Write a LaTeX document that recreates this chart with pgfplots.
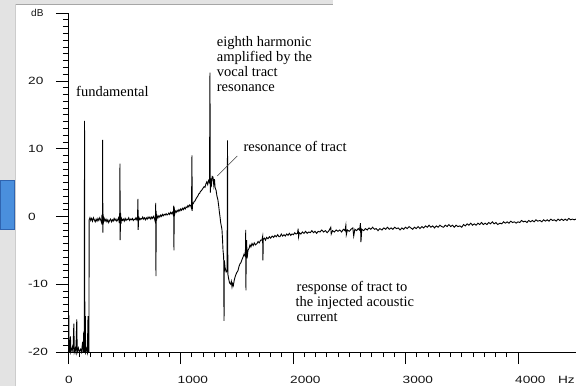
\documentclass[border=0pt]{standalone}
\usepackage{fontspec}
\setmainfont{Liberation Serif}
\newfontfamily\tickfont[FakeStretch=1.3]{Liberation Sans}
\newfontfamily\plainsans{Liberation Sans}
\usepackage{pgfplots}
\pgfplotsset{compat=1.18}
\definecolor{bgray}{HTML}{E3E3E3}
\definecolor{tabblue}{HTML}{4A8FDD}
\definecolor{tabedge}{HTML}{2F64B0}
\newcommand\annfont{\fontsize{14.5}{15}\selectfont}
\pgfplotstableread{
f db
0 -20
4 -20
6 -17.6
8 -14.6
10 -20
16 -18.2
18 -20
22 -17.7
25 -20
38 -19.3
44 -20
52 -15.8
56 -20
64 -19.5
70 -20
78 -15.2
82 -20
92 -19.4
100 -20
112 -19.6
120 -20
130 -18.5
134 -20
140 -17
144 -20
147 14.1
150 -20
154 -14.7
157 -20
166 -19.5
172 -20
178 -14.7
181 -20
186 -20
188 -0.5
195 -0.2
202 -0.6
210 -0.3
218 -0.7
226 -0.2
234 -0.5
242 -0.8
250 -0.4
258 -0.7
266 -0.3
274 -0.6
282 -0.2
290 -0.5
298 -0.9
302 0.2
306 -1.2
308 11.3
310 -2.4
313 0.3
316 -0.8
322 -0.3
330 -0.7
338 -0.4
346 -0.8
354 -0.5
362 -0.9
370 -0.6
378 -0.4
386 -0.8
394 -0.5
402 -0.7
410 -0.3
418 -0.6
426 -0.4
434 -0.7
442 -0.5
450 -0.2
456 -1.0
460 0.6
462 7.8
464 -3.5
467 0.5
471 -1.1
476 -0.3
484 -0.6
492 -0.4
500 -0.7
508 -0.3
516 -0.6
524 -0.4
532 -0.5
540 -0.2
548 -0.6
556 -0.4
564 -0.5
572 -0.3
580 -0.6
588 -0.4
596 -0.5
604 -0.2
612 -0.5
618 -0.1
622 2.6
624 -2.0
627 -0.6
632 -0.2
640 -0.5
648 -0.3
656 -0.4
664 -0.1
672 -0.4
680 -0.2
688 -0.5
696 -0.2
704 -0.4
712 -0.1
720 -0.3
728 -0.1
736 -0.4
744 -0.1
752 -0.3
760 0.0
768 -0.3
776 -0.8
780 2.0
782 -8.8
784 0.8
787 -0.6
792 0.1
800 -0.2
808 0.1
816 -0.1
824 0.2
832 0.0
840 0.3
848 0.1
856 0.3
864 0.2
872 0.4
880 0.2
888 0.3
896 0.5
904 0.3
912 0.6
920 0.4
928 0.6
936 0.2
940 1.6
942 -5.0
944 1.4
948 0.3
954 0.8
962 0.6
970 0.9
978 0.7
986 1.0
994 0.8
1002 1.1
1010 0.9
1018 1.2
1026 1.0
1034 1.3
1042 1.1
1050 1.4
1058 1.3
1066 1.6
1074 1.4
1082 1.7
1090 1.6
1098 1.2
1102 9.0
1104 0.8
1108 2.0
1114 1.9
1122 2.2
1130 2.3
1138 2.6
1146 2.8
1154 3.0
1162 3.3
1170 3.4
1178 3.7
1186 3.8
1194 4.0
1202 4.2
1210 4.4
1218 4.3
1226 4.8
1234 5.1
1242 4.7
1250 5.3
1258 5.0
1262 21.2
1265 3.5
1270 5.6
1276 4.8
1282 5.9
1289 5.8
1296 4.6
1302 5.5
1308 4.2
1316 3.9
1324 3.0
1333 2.4
1340 1.5
1346 0.6
1351 0.0
1358 -1.0
1364 -1.5
1369 -2.0
1374 -3.5
1378 -5.0
1384 -6.0
1387 -15.4
1390 -6.5
1396 -7.5
1406 -8.2
1414 -8.0
1418 11.2
1421 -8.5
1428 -9.2
1436 -9.8
1446 -10.0
1452 -9.6
1458 -10.4
1464 -9.9
1470 -10.2
1478 -9.4
1484 -9.0
1492 -8.6
1500 -8.3
1511 -8.0
1520 -7.4
1529 -7.0
1538 -6.8
1546 -6.4
1556 -6.0
1564 -5.6
1572 -5.8
1578 -4.8
1580 -2.0
1582 -10.9
1584 -5.0
1588 -3.5
1592 -6.2
1600 -5.0
1610 -4.7
1618 -4.2
1626 -4.5
1636 -4.0
1646 -4.3
1656 -3.9
1666 -4.2
1680 -4.0
1690 -3.7
1700 -3.9
1712 -3.5
1724 -3.5
1730 -3.0
1733 -6.5
1736 -3.4
1746 -3.2
1756 -3.5
1766 -3.1
1778 -3.3
1790 -3.0
1802 -3.2
1815 -2.9
1828 -3.1
1840 -2.8
1852 -3.0
1864 -2.7
1876 -3.0
1884 -3.0
1896 -2.6
1908 -2.9
1920 -2.7
1932 -2.9
1944 -2.6
1956 -2.8
1968 -2.5
1980 -2.8
1992 -2.6
2004 -2.7
2016 -2.4
2028 -2.6
2040 -2.5
2046 -1.8
2050 -3.0
2056 -2.4
2070 -2.6
2084 -2.3
2098 -2.5
2112 -2.2
2126 -2.5
2140 -2.3
2154 -2.4
2168 -2.1
2182 -2.4
2196 -2.2
2210 -2.5
2224 -2.2
2240 -2.3
2256 -2.0
2272 -2.3
2288 -2.1
2304 -2.4
2320 -2.1
2336 -1.6
2340 -2.6
2352 -2.1
2368 -2.3
2384 -2.0
2400 -2.2
2416 -2.0
2432 -2.3
2448 -1.9
2462 -2.1
2470 -1.3
2474 -2.7
2484 -2.0
2500 -2.2
2516 -1.9
2532 -1.7
2540 -2.9
2550 -1.9
2566 -2.1
2580 -1.8
2592 -2.0
2600 -1.0
2604 -3.8
2612 -1.9
2628 -2.1
2644 -1.8
2660 -2.0
2676 -1.7
2692 -1.9
2708 -1.6
2724 -1.9
2740 -1.8
2756 -2.1
2772 -1.8
2791 -2.0
2808 -1.7
2824 -1.9
2840 -1.6
2856 -1.9
2872 -1.7
2888 -1.9
2904 -1.6
2920 -1.8
2936 -1.7
2952 -2.0
2968 -1.7
2984 -1.9
3000 -1.6
3016 -1.8
3032 -1.5
3048 -1.7
3064 -1.9
3080 -1.6
3096 -1.8
3112 -1.5
3129 -1.8
3146 -1.5
3162 -1.7
3178 -1.4
3194 -1.6
3210 -1.3
3226 -1.6
3242 -1.4
3258 -1.7
3274 -1.4
3290 -1.6
3306 -1.3
3322 -1.5
3338 -1.6
3354 -1.3
3370 -1.5
3386 -1.2
3402 -1.5
3418 -1.3
3434 -1.6
3450 -1.3
3466 -1.5
3484 -1.4
3500 -1.6
3516 -1.2
3532 -1.4
3548 -1.1
3564 -1.3
3580 -1.0
3596 -1.3
3612 -1.1
3628 -1.3
3644 -1.0
3660 -1.2
3676 -0.9
3692 -1.2
3708 -1.0
3724 -1.2
3740 -0.9
3756 -1.1
3772 -0.8
3788 -1.1
3804 -0.9
3820 -1.2
3840 -1.0
3856 -1.1
3872 -0.8
3888 -1.0
3904 -0.8
3920 -1.0
3936 -0.7
3952 -0.9
3968 -0.8
3984 -1.0
4000 -0.8
4016 -0.9
4032 -0.6
4048 -0.8
4064 -0.7
4080 -0.9
4096 -0.6
4112 -0.8
4128 -0.6
4144 -0.8
4160 -0.5
4176 -0.7
4196 -0.6
4212 -0.8
4228 -0.5
4244 -0.7
4260 -0.5
4276 -0.7
4292 -0.4
4308 -0.6
4324 -0.5
4340 -0.7
4356 -0.4
4372 -0.6
4388 -0.4
4404 -0.6
4420 -0.4
4436 -0.6
4452 -0.3
4468 -0.5
4484 -0.4
4500 -0.5
4516 -0.4
}\spectrum
\begin{document}
\begin{tikzpicture}
\useasboundingbox (0pt,0pt) rectangle (576pt,386pt);
\fill[white] (0pt,0pt) rectangle (576pt,386pt);
\fill[bgray] (0pt,0pt) rectangle (15pt,386pt);
\fill[bgray] (15pt,382pt) rectangle (333pt,386pt);
\draw[black!35, line width=0.6pt] (15pt,382pt) -- (333pt,382pt);
\draw[black!20, line width=0.6pt] (15pt,0pt) -- (15pt,382pt);
\fill[tabblue, draw=tabedge, line width=0.6pt] (0pt,157pt) rectangle (14.5pt,206pt);
\begin{axis}[
  at={(68pt,34pt)}, anchor=south west,
  scale only axis, width=508pt, height=339pt,
  xmin=0, xmax=4516, ymin=-20, ymax=30,
  axis lines=left,
  axis line style={-, black, line width=0.6pt},
  tick align=outside,
  major tick length=12pt, minor tick length=5pt,
  every tick/.style={black, line width=0.6pt},
  xtick={0,1000,2000,3000,4000}, minor x tick num=9,
  xticklabels={0,1000,2000,3000,4000},
  ytick={-20,-10,0,10,20,30}, minor y tick num=9,
  yticklabels={-20,-10,0,10,20,{\fontsize{10}{10}\plainsans\hspace{3pt}dB}},
  xticklabel style={font=\fontsize{10.5}{10.5}\tickfont, text=black!92, anchor=base west, inner sep=0pt, xshift=-3pt, yshift=-19.3pt},
  yticklabel style={font=\fontsize{10.5}{10.5}\tickfont, text=black!92, anchor=base west, inner sep=0pt, xshift=-28pt, yshift=-3.7pt},
  extra x ticks={4382},
  extra x tick labels={Hz},
  extra x tick style={major tick length=0pt, minor tick length=0pt, xticklabel style={yshift=-12pt}},
  clip=false,
]
\addplot[black, line width=0.9pt, mark=none] table[x=f, y=db] {\spectrum};
\end{axis}
\draw[black!75, line width=0.6pt] (217.3pt,210pt) -- (237.3pt,230pt);
\node[anchor=base west, inner sep=0pt, font=\annfont] at (76pt,289.3pt) {fundamental};
\node[anchor=base west, inner sep=0pt, font=\annfont] at (216.7pt,339.3pt) {eighth harmonic};
\node[anchor=base west, inner sep=0pt, font=\annfont] at (216.7pt,324.3pt) {amplified by the};
\node[anchor=base west, inner sep=0pt, font=\annfont] at (216.7pt,309.3pt) {vocal tract};
\node[anchor=base west, inner sep=0pt, font=\annfont] at (216.7pt,294.3pt) {resonance};
\node[anchor=base west, inner sep=0pt, font=\annfont] at (243.3pt,234.3pt) {resonance of tract};
\node[anchor=base west, inner sep=0pt, font=\annfont] at (296.5pt,94.3pt) {response of tract to};
\node[anchor=base west, inner sep=0pt, font=\annfont] at (295.5pt,79.3pt) {the injected acoustic};
\node[anchor=base west, inner sep=0pt, font=\annfont] at (296.5pt,64.3pt) {current};
\end{tikzpicture}
\end{document}
